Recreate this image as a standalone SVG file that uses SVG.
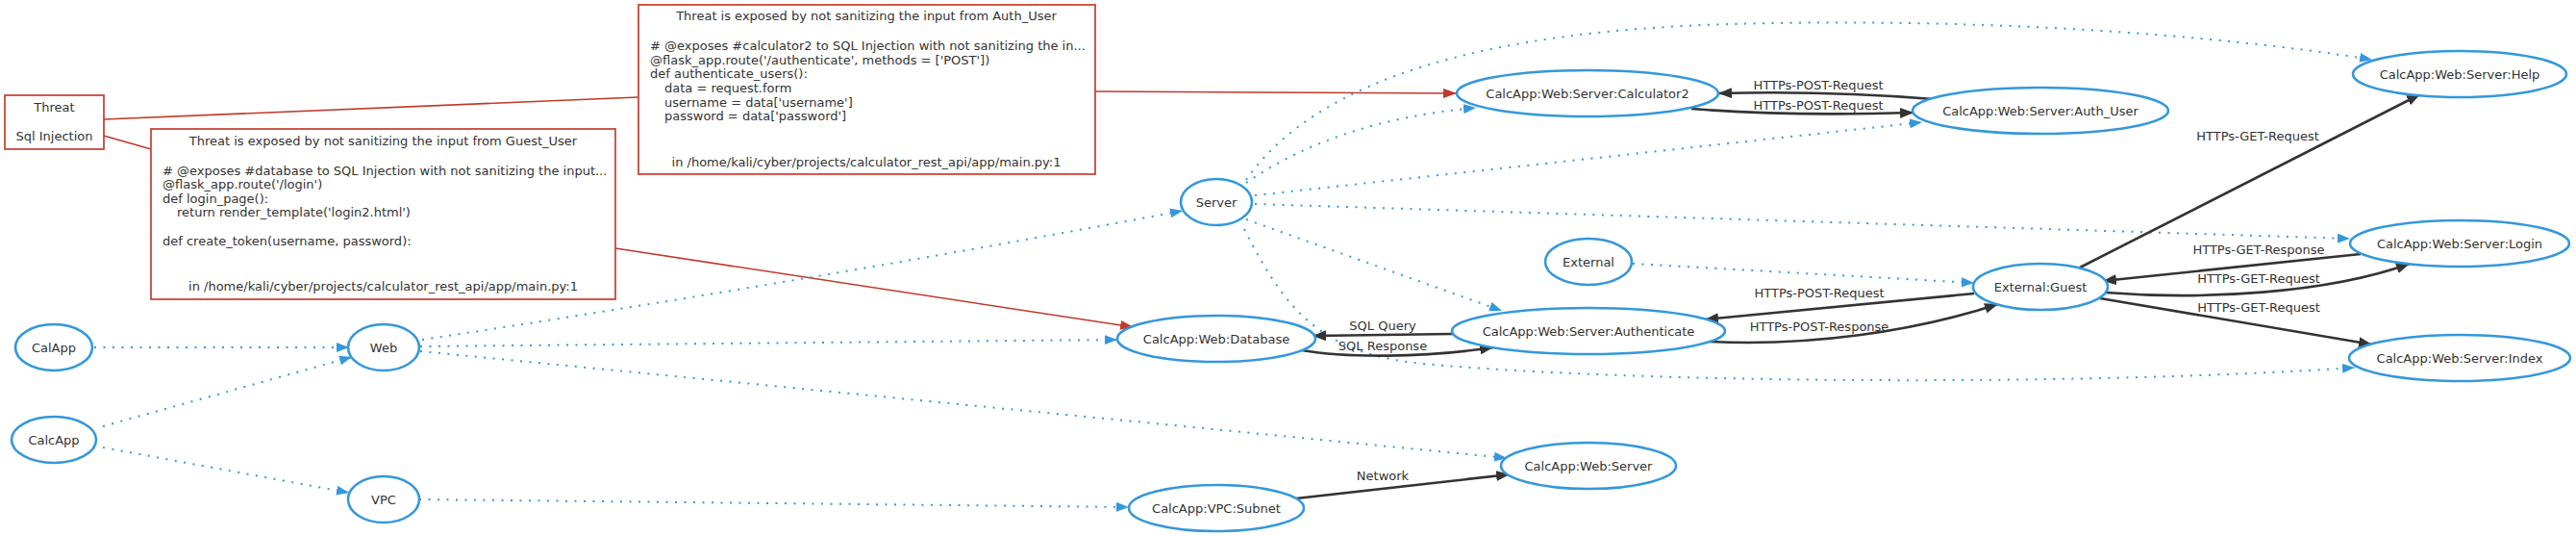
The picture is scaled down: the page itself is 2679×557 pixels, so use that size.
<svg xmlns="http://www.w3.org/2000/svg" width="2679" height="557" viewBox="0 0 2679 557">
<style>
text{font-family:"DejaVu Sans","Liberation Sans",sans-serif;font-size:13px;fill:#333}
.c{text-anchor:middle}
.node ellipse{fill:#fff;stroke:#3498db;stroke-width:2.6}
.box rect{fill:#fff;stroke:#c9473a;stroke-width:1.8}
.dot{fill:none;stroke:#3498db;stroke-width:2;stroke-dasharray:2 7.5;stroke-linecap:butt}
.sol{fill:none;stroke:#333;stroke-width:2.6}
.red{fill:none;stroke:#c0392b;stroke-width:1.6}
</style>
<defs>
<marker id="ab" markerUnits="userSpaceOnUse" markerWidth="13" markerHeight="10" viewBox="0 0 13 10" refX="13" refY="5" orient="auto"><path d="M0,0L13,5L0,10z" fill="#3498db"/></marker>
<marker id="ad" markerUnits="userSpaceOnUse" markerWidth="14" markerHeight="11" viewBox="0 0 14 11" refX="14" refY="5.5" orient="auto"><path d="M0,0L14,5.5L0,11z" fill="#333"/></marker>
<marker id="ar" markerUnits="userSpaceOnUse" markerWidth="14" markerHeight="10" viewBox="0 0 14 10" refX="14" refY="5" orient="auto"><path d="M0,0L14,5L0,10z" fill="#c0392b"/></marker>
</defs>
<g id="connectors">
<!-- red threat lines -->
<path class="red" d="M108,124L664,101"/>
<path class="red" d="M108,141L157,155"/>
<path class="red" d="M1139,95L1515,97" marker-end="url(#ar)"/>
<path class="red" d="M640,258L1179,340" marker-end="url(#ar)"/>
<!-- dotted -->
<path class="dot" d="M98,361L363,361" marker-end="url(#ab)"/>
<path class="dot" d="M107,443L366,371" marker-end="url(#ab)"/>
<path class="dot" d="M107,465L363,512" marker-end="url(#ab)"/>
<path class="dot" d="M439,353Q830,294 1230,219" marker-end="url(#ab)"/>
<path class="dot" d="M437,360L1162,353" marker-end="url(#ab)"/>
<path class="dot" d="M437,365L1567,476" marker-end="url(#ab)"/>
<path class="dot" d="M436,519L1174,527" marker-end="url(#ab)"/>
<path class="dot" d="M1296,187C1370,80 1550,32 1800,25S2300,35 2467,62" marker-end="url(#ab)"/>
<path class="dot" d="M1296,190Q1390,125 1535,112" marker-end="url(#ab)"/>
<path class="dot" d="M1305,203L1999,127" marker-end="url(#ab)"/>
<path class="dot" d="M1305,212L2444,248" marker-end="url(#ab)"/>
<path class="dot" d="M1296,228L1562,323" marker-end="url(#ab)"/>
<path class="dot" d="M1294,238C1340,330 1380,368 1480,378C1700,398 2150,402 2449,382" marker-end="url(#ab)"/>
<path class="dot" d="M1698,274L2053,294" marker-end="url(#ab)"/>
<!-- solid -->
<path class="sol" d="M2011,103Q1900,94 1787,97" marker-end="url(#ad)"/>
<path class="sol" d="M1759,113Q1860,121 1990,117" marker-end="url(#ad)"/>
<path class="sol" d="M2053,305L1773,332" marker-end="url(#ad)"/>
<path class="sol" d="M1778,355C1880,360 1990,345 2078,316" marker-end="url(#ad)"/>
<path class="sol" d="M2163,278L2517,98" marker-end="url(#ad)"/>
<path class="sol" d="M2455,264L2187,292" marker-end="url(#ad)"/>
<path class="sol" d="M2190,304C2290,312 2420,305 2506,274" marker-end="url(#ad)"/>
<path class="sol" d="M2184,310L2467,358" marker-end="url(#ad)"/>
<path class="sol" d="M1511,347L1365,349" marker-end="url(#ad)"/>
<path class="sol" d="M1354,364C1400,372 1480,372 1553,361" marker-end="url(#ad)"/>
<path class="sol" d="M1348,518L1570,493" marker-end="url(#ad)"/>
<!-- labels -->
<text class="c" x="1891" y="92.5">HTTPs-POST-Request</text>
<text class="c" x="1891" y="113.5">HTTPs-POST-Request</text>
<text class="c" x="2348" y="145.5">HTTPs-GET-Request</text>
<text class="c" x="2349" y="263.5">HTTPs-GET-Response</text>
<text class="c" x="2349" y="293.5">HTTPs-GET-Request</text>
<text class="c" x="2349" y="323.5">HTTPs-GET-Request</text>
<text class="c" x="1892" y="308.5">HTTPs-POST-Request</text>
<text class="c" x="1892" y="343.5">HTTPs-POST-Response</text>
<text class="c" x="1438" y="342.5">SQL Query</text>
<text class="c" x="1438" y="363.5">SQL Response</text>
<text class="c" x="1438" y="498.5">Network</text>
</g>
<g id="threat" class="box">
<rect x="5" y="99" width="103" height="56"/>
<text class="c" x="56.5" y="115.5">Threat</text>
<text class="c" x="56.5" y="145.5">Sql Injection</text>
</g>
<g id="threat-guest" class="box">
<rect x="157" y="134" width="483" height="177"/>
<text class="c" x="398.5" y="150.5">Threat is exposed by not sanitizing the input from Guest_User</text>
<text x="169" y="181.5"># @exposes #database to SQL Injection with not sanitizing the input...</text>
<text x="169" y="196">@flask_app.route('/login')</text>
<text x="169" y="210.5">def login_page():</text>
<text x="184" y="225">return render_template('login2.html')</text>
<text x="169" y="254.5">def create_token(username, password):</text>
<text class="c" x="398.5" y="301.5">in /home/kali/cyber/projects/calculator_rest_api/app/main.py:1</text>
</g>
<g id="threat-auth" class="box">
<rect x="664" y="5" width="475" height="176"/>
<text class="c" x="901" y="20.5">Threat is exposed by not sanitizing the input from Auth_User</text>
<text x="676" y="52">#  @exposes #calculator2 to SQL Injection with not sanitizing the in...</text>
<text x="676" y="66.5">@flask_app.route('/authenticate', methods = ['POST'])</text>
<text x="676" y="81">def authenticate_users():</text>
<text x="691" y="95.5">data = request.form</text>
<text x="691" y="110.5">username = data['username']</text>
<text x="691" y="124.5">password = data['password']</text>
<text class="c" x="901" y="172.5">in /home/kali/cyber/projects/calculator_rest_api/app/main.py:1</text>
</g>
<g id="calapp" class="node"><ellipse cx="56" cy="361" rx="40" ry="24"/><text class="c" x="56" y="365.5">CalApp</text></g>
<g id="calcapp" class="node"><ellipse cx="56" cy="457" rx="44" ry="24"/><text class="c" x="56" y="461.5">CalcApp</text></g>
<g id="web" class="node"><ellipse cx="399" cy="361" rx="37" ry="24"/><text class="c" x="399" y="365.5">Web</text></g>
<g id="vpc" class="node"><ellipse cx="399" cy="519" rx="37" ry="24"/><text class="c" x="399" y="523.5">VPC</text></g>
<g id="server" class="node"><ellipse cx="1265" cy="210" rx="37" ry="24"/><text class="c" x="1265" y="214.5">Server</text></g>
<g id="database" class="node"><ellipse cx="1265" cy="352" rx="103" ry="24"/><text class="c" x="1265" y="356.5">CalcApp:Web:Database</text></g>
<g id="subnet" class="node"><ellipse cx="1265" cy="528" rx="91" ry="24"/><text class="c" x="1265" y="532.5">CalcApp:VPC:Subnet</text></g>
<g id="calculator2" class="node"><ellipse cx="1651" cy="97" rx="136" ry="24"/><text class="c" x="1651" y="101.5">CalcApp:Web:Server:Calculator2</text></g>
<g id="external" class="node"><ellipse cx="1652" cy="272" rx="45" ry="24"/><text class="c" x="1652" y="276.5">External</text></g>
<g id="authenticate" class="node"><ellipse cx="1652" cy="344" rx="142" ry="24"/><text class="c" x="1652" y="348.5">CalcApp:Web:Server:Authenticate</text></g>
<g id="webserver" class="node"><ellipse cx="1652" cy="484" rx="91" ry="24"/><text class="c" x="1652" y="488.5">CalcApp:Web:Server</text></g>
<g id="authuser" class="node"><ellipse cx="2122" cy="115" rx="133" ry="24"/><text class="c" x="2122" y="119.5">CalcApp:Web:Server:Auth_User</text></g>
<g id="guest" class="node"><ellipse cx="2122" cy="298" rx="70" ry="24"/><text class="c" x="2122" y="302.5">External:Guest</text></g>
<g id="help" class="node"><ellipse cx="2558" cy="77" rx="111" ry="24"/><text class="c" x="2558" y="81.5">CalcApp:Web:Server:Help</text></g>
<g id="login" class="node"><ellipse cx="2558" cy="253" rx="114" ry="24"/><text class="c" x="2558" y="257.5">CalcApp:Web:Server:Login</text></g>
<g id="index" class="node"><ellipse cx="2558" cy="372" rx="115" ry="24"/><text class="c" x="2558" y="376.5">CalcApp:Web:Server:Index</text></g>
</svg>
